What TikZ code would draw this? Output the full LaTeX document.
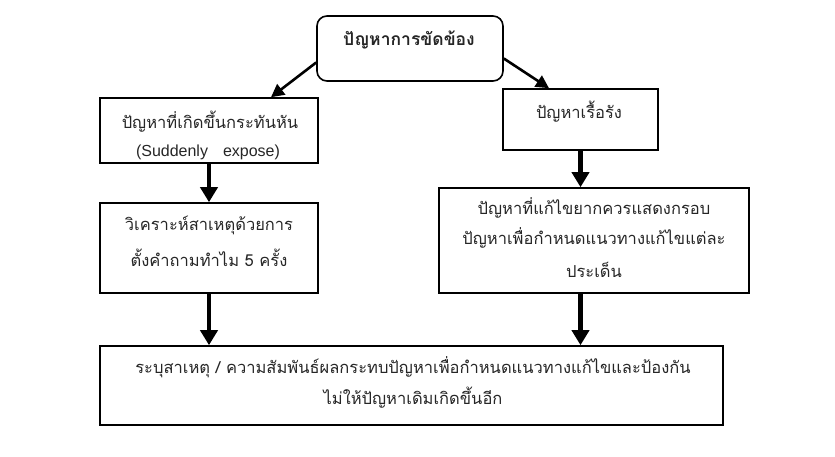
\documentclass[tikz,border=0pt]{standalone}
\usepackage{fontspec}
\setmainfont{Liberation Sans}
\newfontfamily\thai[Script=Thai]{Loma}
\usetikzlibrary{arrows.meta}
\begin{document}
\begin{tikzpicture}[x=1pt,y=-1pt,
  box/.style={draw, line width=1.6pt, inner sep=0pt, rectangle},
  txt/.style={font=\thai\fontsize{16.5}{18}\selectfont, inner sep=0pt, text=black!85},
  bigarrow/.style={line width=4.5pt, -{Triangle[length=15pt,width=17pt]}},
  diagarrow/.style={line width=2.6pt, -{Triangle[length=13pt,width=13pt]}}]
\fill[white] (0,0) rectangle (835,457);
\useasboundingbox (0,0) rectangle (835,457);
% boxes
\node[box, rounded corners=10pt, minimum width=186pt, minimum height=65pt] (top) at (410,48.5) {};
\node[box, minimum width=218pt, minimum height=65pt] (l1) at (209,130.5) {};
\node[box, minimum width=218pt, minimum height=90pt] (l2) at (209,248) {};
\node[box, minimum width=155pt, minimum height=61pt] (r1) at (580.5,119.5) {};
\node[box, minimum width=310pt, minimum height=105pt] (r2) at (594,240.5) {};
\node[box, minimum width=623pt, minimum height=79pt] (bot) at (411.5,385.5) {};
% texts
\node[txt, font=\thai\bfseries\fontsize{17.5}{19}\selectfont] (ttop) at (409,40) {ปัญหาการขัดข้อง};
\node[txt] (tl1a) at (210,122) {ปัญหาที่เกิดขึ้นกระทันหัน};
\node[txt, font=\fontsize{16}{18}\selectfont] (tl1b) at (208,152) {(Suddenly\hspace{15pt}expose)};
\node[txt] (tl2a) at (209,225) {วิเคราะห์สาเหตุด้วยการ};
\node[txt] (tl2b) at (209,258) {ตั้งคำถามทำไม 5 ครั้ง};
\node[txt] (tr1) at (579,112) {ปัญหาเรื้อรัง};
\node[txt] (tr2a) at (594,208) {ปัญหาที่แก้ไขยากควรแสดงกรอบ};
\node[txt] (tr2b) at (594,238) {ปัญหาเพื่อกำหนดแนวทางแก้ไขแต่ละ};
\node[txt] (tr2c) at (594,270) {ประเด็น};
\node[txt] (tb1) at (413,367) {ระบุสาเหตุ / ความสัมพันธ์ผลกระทบปัญหาเพื่อกำหนดแนวทางแก้ไขและป้องกัน};
\node[txt] (tb2) at (413,398) {ไม่ให้ปัญหาเดิมเกิดขึ้นอีก};
% connectors
\draw[diagarrow] ([yshift=-14pt]top.west) -- ([xshift=62pt]l1.north);
\draw[diagarrow] ([yshift=-10pt]top.east) -- ([xshift=-31.5pt]r1.north);
\draw[bigarrow] (l1.south) -- (l2.north);
\draw[bigarrow] (r1.south) -- (r1.south |- r2.north);
\draw[bigarrow] (l2.south) -- (l2.south |- bot.north);
\draw[bigarrow] (r1.south |- r2.south) -- (r1.south |- bot.north);
\end{tikzpicture}
\end{document}
